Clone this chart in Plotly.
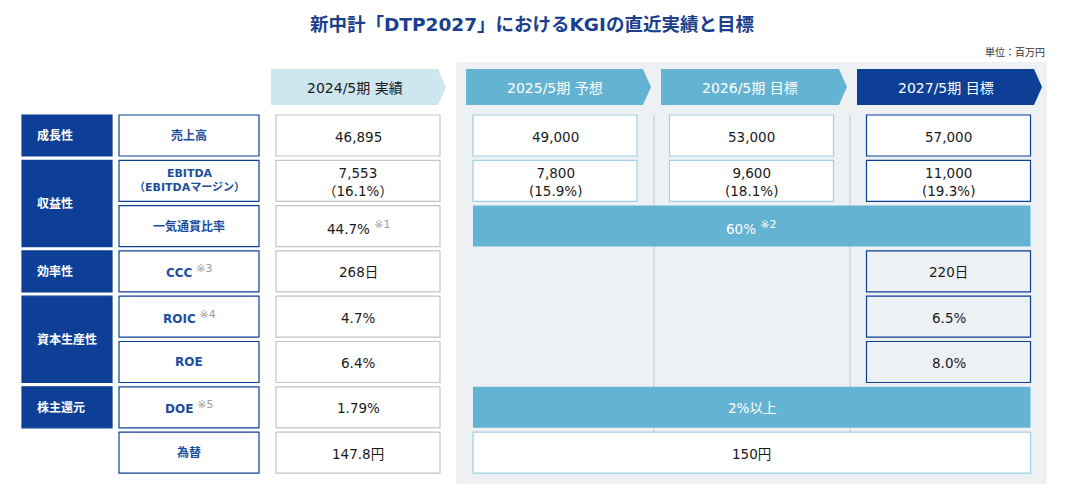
import plotly.graph_objects as go

NAVY = "#0c3f95"
SKY = "#64b3d2"
PALE = "#cde6f0"
PANEL = "#eef1f4"
ITEM_BLUE = "#1d4e9e"
GRAY_LINE = "#c4c4c4"
LIGHT_LINE = "#9fd0e3"
NOTE = "#9a9a9a"
TEXT = "#1a1a1a"
FONT = "DejaVu Sans, Noto Sans CJK JP, sans-serif"

# ---- data ----
title = "新中計「DTP2027」におけるKGIの直近実績と目標"
unit_label = "単位：百万円"
periods = ["2024/5期 実績", "2025/5期 予想", "2026/5期 目標", "2027/5期 目標"]

categories = ["成長性", "収益性", "効率性", "資本生産性", "株主還元"]
category_spans = [1, 2, 1, 2, 1]

items = ["売上高", "EBITDA<br>（EBITDAマージン）", "一気通貫比率", "CCC", "ROIC", "ROE", "DOE", "為替"]
item_notes = ["", "", "", "※3", "※4", "", "※5", ""]

actual_2024 = ["46,895", "7,553<br>（16.1%）", "44.7%", "268日", "4.7%", "6.4%", "1.79%", "147.8円"]
actual_notes = ["", "", "※1", "", "", "", "", ""]
forecast_2025 = ["49,000", "7,800<br>(15.9%)", None, None, None, None, None, None]
target_2026 = ["53,000", "9,600<br>(18.1%)", None, None, None, None, None, None]
target_2027 = ["57,000", "11,000<br>(19.3%)", None, "220日", "6.5%", "8.0%", None, None]

# rows where one value covers 2025-2027
span_rows = [2, 6, 7]
span_values = ["60%", "2%以上", "150円"]
span_notes = ["※2", "", ""]

# ---- layout grid (page pixels) ----
ROW_TOP = 115
ROW_PITCH = 45.3
ROW_H = 41
COL_LEFT = [276, 473, 669.5, 866.5]
COL_W = 164
HEAD_LEFT = [271, 466, 661, 857]
HEAD_W = [167, 177, 178, 177]
BODY_MARGIN = 8  # default html body margin offsets the figure

fig = go.Figure()
shapes = []
annots = []


def row_y(i):
    return ROW_TOP + i * ROW_PITCH


def box(x0, y0, x1, y1, fill, line, width=1.2):
    shapes.append(dict(type="rect", xref="x", yref="y", x0=x0, y0=y0, x1=x1, y1=y1,
                       fillcolor=fill, line=dict(color=line, width=width), layer="below"))


def label(x, y, text, size=14, color=TEXT, anchor="center"):
    annots.append(dict(x=x, y=y, xref="x", yref="y", text=text, showarrow=False,
                       xanchor=anchor, yanchor="middle",
                       font=dict(size=size, color=color, family=FONT)))


def with_note(text, note, color=NOTE):
    if not note:
        return text
    return f"{text} <sup><span style='font-size:11px;font-weight:normal;color:{color}'>{note}</span></sup>"


# grey panel behind forecast / target columns
shapes.append(dict(type="path", xref="x", yref="y",
                   path="M 459,62 L 1044,62 Q 1047,62 1047,65 L 1047,481 Q 1047,484 1044,484 "
                        "L 459,484 Q 456,484 456,481 L 456,65 Q 456,62 459,62 Z",
                   fillcolor=PANEL, line=dict(width=0), layer="below"))

# vertical separators in the panel
for xs in [654, 850]:
    shapes.append(dict(type="line", xref="x", yref="y", x0=xs, x1=xs, y0=row_y(0),
                       y1=row_y(7), line=dict(color=GRAY_LINE, width=1), layer="below"))

# header arrows
head_fill = [PALE, SKY, SKY, NAVY]
head_text = [TEXT, "white", "white", "white"]
for j, p in enumerate(periods):
    l = HEAD_LEFT[j]
    r = l + HEAD_W[j]
    path = f"M {l},69 L {r},69 L {r + 8},87 L {r},105 L {l},105 Z"
    shapes.append(dict(type="path", xref="x", yref="y", path=path,
                       fillcolor=head_fill[j], line=dict(width=0), layer="below"))
    label((l + r) / 2, 88, p, size=14, color=head_text[j])

# category boxes
start = 0
for cat, span in zip(categories, category_spans):
    y0 = row_y(start)
    y1 = row_y(start + span - 1) + ROW_H
    box(22, y0, 112, y1, NAVY, NAVY)
    label(35, (y0 + y1) / 2, f"<b>{cat}</b>", size=12, color="white", anchor="left")
    start += span

# item boxes
for i, (it, note) in enumerate(zip(items, item_notes)):
    y0 = row_y(i)
    box(119, y0, 259, y0 + ROW_H, "white", NAVY)
    size = 11 if "<br>" in it else 12
    label(189, y0 + ROW_H / 2, with_note(f"<b>{it}</b>", note), size=size, color=ITEM_BLUE)

# 2024 actuals
for i, (v, note) in enumerate(zip(actual_2024, actual_notes)):
    y0 = row_y(i)
    box(COL_LEFT[0], y0, COL_LEFT[0] + COL_W, y0 + ROW_H, "white", GRAY_LINE)
    label(COL_LEFT[0] + COL_W / 2, y0 + ROW_H / 2 + 1, with_note(v, note), size=13.5)

# forecast / target columns
for j, series in [(1, forecast_2025), (2, target_2026), (3, target_2027)]:
    for i, v in enumerate(series):
        if v is None:
            continue
        y0 = row_y(i)
        if j == 3:
            fill = "white" if i < 2 else PANEL
            line = NAVY
        else:
            fill, line = "white", LIGHT_LINE
        box(COL_LEFT[j], y0, COL_LEFT[j] + COL_W, y0 + ROW_H, fill, line)
        label(COL_LEFT[j] + COL_W / 2, y0 + ROW_H / 2 + 1, v, size=13.5)

# values spanning 2025-2027
for i, v, note in zip(span_rows, span_values, span_notes):
    y0 = row_y(i)
    x0 = COL_LEFT[1]
    x1 = COL_LEFT[3] + COL_W
    if i == 7:
        box(x0, y0, x1, y0 + ROW_H, "white", LIGHT_LINE)
        label((x0 + x1) / 2, y0 + ROW_H / 2 + 1, v, size=13.5)
    else:
        box(x0, y0, x1, y0 + ROW_H, SKY, SKY, width=0)
        label((x0 + x1) / 2, y0 + ROW_H / 2 + 1, with_note(v, note, "white"),
              size=13.5, color="white")

# title and unit
label(532, 24, f"<b>{title}</b>", size=18.5, color="#1a3f8f")
label(1047, 52, unit_label, size=10, color="#333333", anchor="right")

fig.update_layout(
    width=1080 - BODY_MARGIN,
    height=500 - BODY_MARGIN,
    margin=dict(l=0, r=0, t=0, b=0),
    paper_bgcolor="white",
    plot_bgcolor="white",
    shapes=shapes,
    annotations=annots,
    showlegend=False,
)
fig.update_xaxes(range=[BODY_MARGIN, 1080], visible=False, fixedrange=True)
fig.update_yaxes(range=[500, BODY_MARGIN], visible=False, fixedrange=True)

fig.write_html("out.html")
